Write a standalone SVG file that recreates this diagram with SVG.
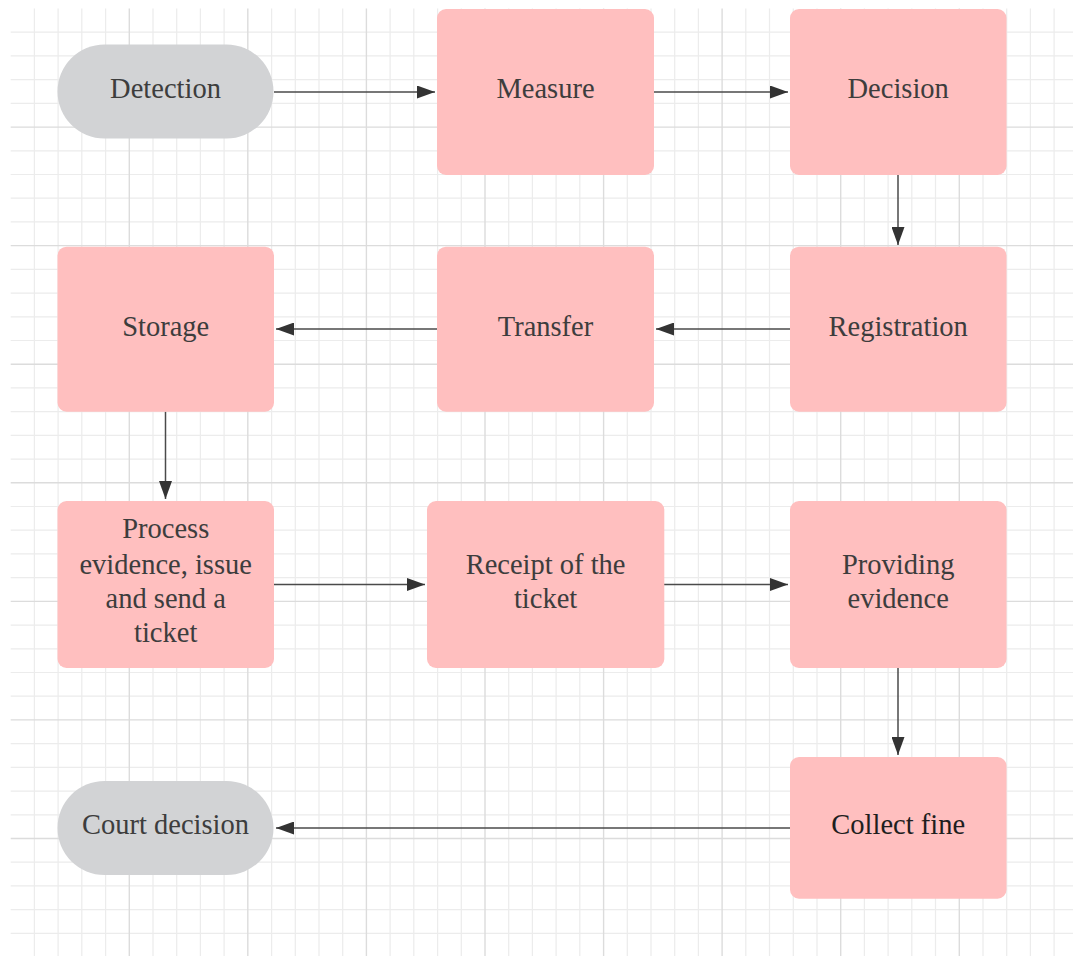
<svg xmlns="http://www.w3.org/2000/svg" width="1073" height="956" viewBox="0 0 1073 956">
<style>
.minor{stroke:#ececec;stroke-width:1.2;fill:none}
.major{stroke:#dcdcdc;stroke-width:1.4;fill:none}
.box{fill:#ffbfbf}
.term{fill:#d2d3d5}
.lbl{font-family:"Liberation Serif","Times New Roman",serif;font-size:28.5px;fill:#3d3d3d;text-anchor:middle}
.conn{stroke:#4a4a4a;stroke-width:1.5;fill:none;marker-end:url(#arrow)}
</style>
<defs>
<marker id="arrow" markerUnits="userSpaceOnUse" markerWidth="18" markerHeight="13" refX="18" refY="6.5" orient="auto">
<path d="M0,0 L18,6.5 L0,13 z" fill="#333"/>
</marker>
</defs>
<rect x="0" y="0" width="1073" height="956" fill="#ffffff"/>
<g id="grid">
<path class="minor" d="M34.4 8.5V956M58.1 8.5V956M81.8 8.5V956M105.6 8.5V956M153 8.5V956M176.7 8.5V956M200.4 8.5V956M224.1 8.5V956M271.6 8.5V956M295.3 8.5V956M319 8.5V956M342.7 8.5V956M390.1 8.5V956M413.8 8.5V956M437.6 8.5V956M461.3 8.5V956M508.7 8.5V956M532.4 8.5V956M556.1 8.5V956M579.8 8.5V956M627.3 8.5V956M651 8.5V956M674.7 8.5V956M698.4 8.5V956M745.8 8.5V956M769.5 8.5V956M793.3 8.5V956M817 8.5V956M864.4 8.5V956M888.1 8.5V956M911.8 8.5V956M935.5 8.5V956M983 8.5V956M1006.7 8.5V956M1030.4 8.5V956M1054.1 8.5V956
M10.7 32.2H1073M10.7 55.9H1073M10.7 79.6H1073M10.7 103.4H1073M10.7 150.8H1073M10.7 174.5H1073M10.7 198.2H1073M10.7 221.9H1073M10.7 269.4H1073M10.7 293.1H1073M10.7 316.8H1073M10.7 340.5H1073M10.7 387.9H1073M10.7 411.6H1073M10.7 435.4H1073M10.7 459.1H1073M10.7 506.5H1073M10.7 530.2H1073M10.7 553.9H1073M10.7 577.6H1073M10.7 625.1H1073M10.7 648.8H1073M10.7 672.5H1073M10.7 696.2H1073M10.7 743.6H1073M10.7 767.4H1073M10.7 791.1H1073M10.7 814.8H1073M10.7 862.2H1073M10.7 885.9H1073M10.7 909.6H1073M10.7 933.4H1073"/>
<path class="major" d="M129.3 8.5V956M247.8 8.5V956M366.4 8.5V956M485 8.5V956M603.6 8.5V956M722.1 8.5V956M840.7 8.5V956M959.3 8.5V956
M10.7 127.1H1073M10.7 245.6H1073M10.7 364.2H1073M10.7 482.8H1073M10.7 601.4H1073M10.7 719.9H1073M10.7 838.5H1073"/>
</g>
<g id="connectors">
<path class="conn" d="M274 92H435"/>
<path class="conn" d="M654 92H788"/>
<path class="conn" d="M898 175V245"/>
<path class="conn" d="M790 329H656"/>
<path class="conn" d="M437 329H276"/>
<path class="conn" d="M165.5 411.7V499"/>
<path class="conn" d="M274 584.5H425"/>
<path class="conn" d="M664 584.5H788"/>
<path class="conn" d="M898 667.7V755"/>
<path class="conn" d="M790 828H276"/>
</g>
<g id="detection">
<rect class="term" x="57.5" y="44.5" width="216" height="94" rx="47"/>
<text class="lbl" x="165.5" y="97.5">Detection</text>
</g>
<g id="measure">
<rect class="box" x="437" y="9" width="217" height="166" rx="9"/>
<text class="lbl" x="545.5" y="98">Measure</text>
</g>
<g id="decision">
<rect class="box" x="790" y="9" width="216.5" height="166" rx="9"/>
<text class="lbl" x="898.2" y="98">Decision</text>
</g>
<g id="registration">
<rect class="box" x="790" y="246.7" width="216.5" height="165" rx="9"/>
<text class="lbl" x="898.2" y="335.5">Registration</text>
</g>
<g id="transfer">
<rect class="box" x="437" y="246.7" width="217" height="165" rx="9"/>
<text class="lbl" x="545.5" y="335.5">Transfer</text>
</g>
<g id="storage">
<rect class="box" x="57.5" y="246.7" width="216.5" height="165" rx="9"/>
<text class="lbl" x="165.7" y="335.5">Storage</text>
</g>
<g id="process">
<rect class="box" x="57.5" y="501" width="216.5" height="167" rx="9"/>
<text class="lbl" x="165.7" y="537.5">Process</text>
<text class="lbl" x="165.7" y="573.5">evidence, issue</text>
<text class="lbl" x="165.7" y="607.8">and send a</text>
<text class="lbl" x="165.7" y="642.3">ticket</text>
</g>
<g id="receipt">
<rect class="box" x="427" y="501" width="237.3" height="167" rx="9"/>
<text class="lbl" x="545.6" y="573.5">Receipt of the</text>
<text class="lbl" x="545.6" y="607.8">ticket</text>
</g>
<g id="providing">
<rect class="box" x="790" y="501" width="216.5" height="167" rx="9"/>
<text class="lbl" x="898.2" y="573.5">Providing</text>
<text class="lbl" x="898.2" y="607.8">evidence</text>
</g>
<g id="collect">
<rect class="box" x="790" y="757" width="216.5" height="141.7" rx="9"/>
<text class="lbl" x="898.2" y="834.3" style="fill:#1e1e1e">Collect fine</text>
</g>
<g id="court">
<rect class="term" x="57.5" y="781" width="216" height="94" rx="47"/>
<text class="lbl" x="165.5" y="834.3">Court decision</text>
</g>
</svg>
